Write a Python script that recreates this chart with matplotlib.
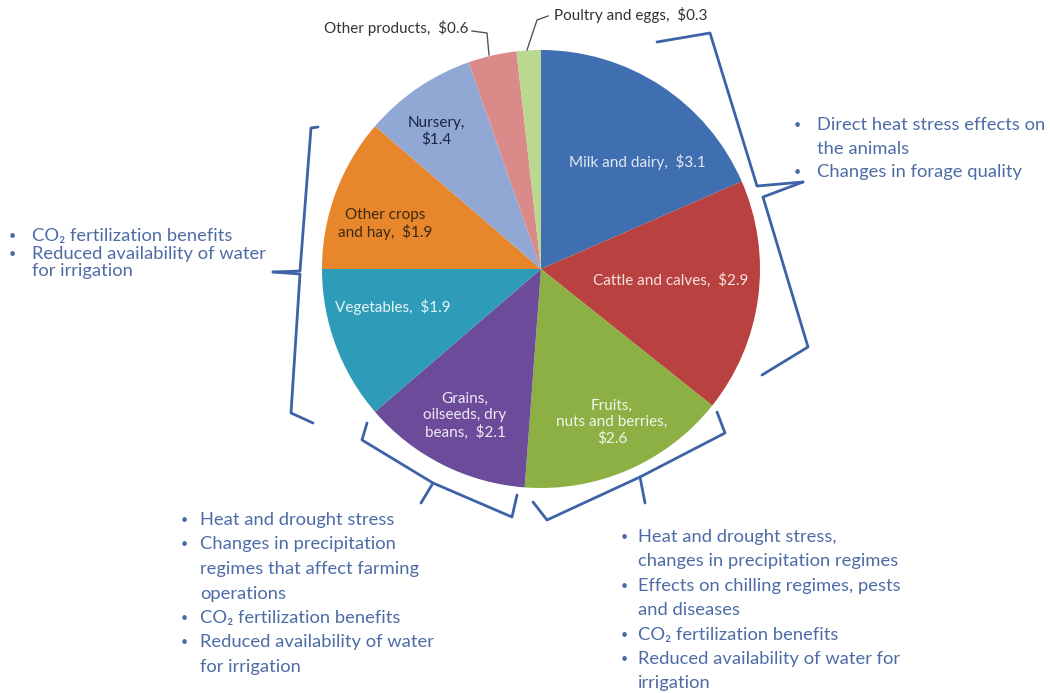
import matplotlib
matplotlib.use("Agg")
import matplotlib.pyplot as plt

plt.rcParams['font.family'] = ['Lato', 'DejaVu Sans']

# valeurs en milliards de dollars
categories = ["Milk and dairy", "Cattle and calves", "Fruits, nuts and berries",
              "Grains, oilseeds, dry beans", "Vegetables", "Other crops and hay",
              "Nursery", "Other products", "Poultry and eggs"]
values = [3.1, 2.9, 2.6, 2.1, 1.9, 1.9, 1.4, 0.6, 0.3]
slice_labels = ["Milk and dairy,  $3.1", "Cattle and calves,  $2.9",
                "Fruits,\nnuts and berries,\n$2.6", "Grains,\noilseeds, dry\nbeans,  $2.1",
                "Vegetables,  $1.9", "Other crops\nand hay,  $1.9", "Nursery,\n$1.4",
                "Other products,  $0.6", "Poultry and eggs,  $0.3"]
colors = ["#3f6fb0", "#b9413f", "#8cb043", "#6c4b9a", "#2e9cb8",
          "#e8862c", "#91a8d5", "#db8a8a", "#bbd891"]

# positions des étiquettes (pixels, origine en haut à gauche)
label_pos = [(637, 162), (671, 280), (612, 422), (465, 416), (393, 307),
             (385, 224), (436, 131), (396, 28), (631, 15)]
label_colors = ["#e2e8f4", "#f6e2e2", "#f2f6ea", "#efeaf6", "#e6f4f8",
                "#3b2a12", "#1c2440", "#333333", "#333333"]

# blocs de texte à puces : (x puce, x texte, y premiere ligne, interligne, lignes)
blocks = [
    (797, 817, 125, 23.5, [("•", "Direct heat stress effects on"), ("", "the animals"),
                          ("•", "Changes in forage quality")]),
    (12, 32, 236, 17.5, [("•", "CO₂ fertilization benefits"),
                         ("•", "Reduced availability of water"), ("", "for irrigation")]),
    (184, 200, 520, 24.5, [("•", "Heat and drought stress"), ("•", "Changes in precipitation"),
                           ("", "regimes that affect farming"), ("", "operations"),
                           ("•", "CO₂ fertilization benefits"),
                           ("•", "Reduced availability of water"), ("", "for irrigation")]),
    (624, 638, 537, 24.4, [("•", "Heat and drought stress,"),
                           ("", "changes in precipitation regimes"),
                           ("•", "Effects on chilling regimes, pests"), ("", "and diseases"),
                           ("•", "CO₂ fertilization benefits"),
                           ("•", "Reduced availability of water for"), ("", "irrigation")]),
]
block_sizes = [13.2, 13.2, 13.2, 13.2]

# accolades autour du camembert
brackets = [
    [(657, 42), (710, 33), (757, 186), (803, 182)],
    [(803, 182), (763, 197), (808, 347), (762, 375)],
    [(318, 127), (311, 128), (300, 271), (273, 272)],
    [(273, 272), (300, 274), (291, 413), (313, 423)],
    [(367, 423), (362, 440), (433, 483), (512, 517), (517, 495)],
    [(433, 483), (421, 503)],
    [(717, 412), (725, 433), (640, 477), (547, 520), (533, 502)],
    [(640, 477), (645, 503)],
]
leaders = [
    [(472, 31), (487, 33), (489, 55)],
    [(548, 16), (537, 20), (527, 50)],
]

W, H = 1050, 693
fig = plt.figure(figsize=(W / 100, H / 100), dpi=100)
ax = fig.add_axes([0, 0, 1, 1])

# axe y inversé : sens horaire à l'écran = sens trigo dans les données
ax.pie(values, colors=colors, startangle=-90, counterclock=True,
       center=(541, 269), radius=219, wedgeprops=dict(linewidth=0))

for (x, y), txt, c in zip(label_pos, slice_labels, label_colors):
    ax.text(x, y, txt, ha="center", va="center", color=c, fontsize=11,
            linespacing=1.2)

for pts in brackets:
    xs, ys = zip(*pts)
    ax.plot(xs, ys, color="#3d63a6", lw=2, solid_joinstyle="round",
            solid_capstyle="round")
for pts in leaders:
    xs, ys = zip(*pts)
    ax.plot(xs, ys, color="#555555", lw=1)

text_color = "#4d6ca6"
for (xb, xt, y0, dy, lines), fs in zip(blocks, block_sizes):
    for i, (b, t) in enumerate(lines):
        y = y0 + i * dy
        if b:
            ax.text(xb, y, b, ha="center", va="center", color=text_color, fontsize=9)
        ax.text(xt, y, t, ha="left", va="center", color=text_color, fontsize=fs)

ax.set_xlim(0, W)
ax.set_ylim(H, 0)
ax.set_aspect("equal")
ax.axis("off")

fig.savefig("out.png", dpi=100, facecolor="white")
